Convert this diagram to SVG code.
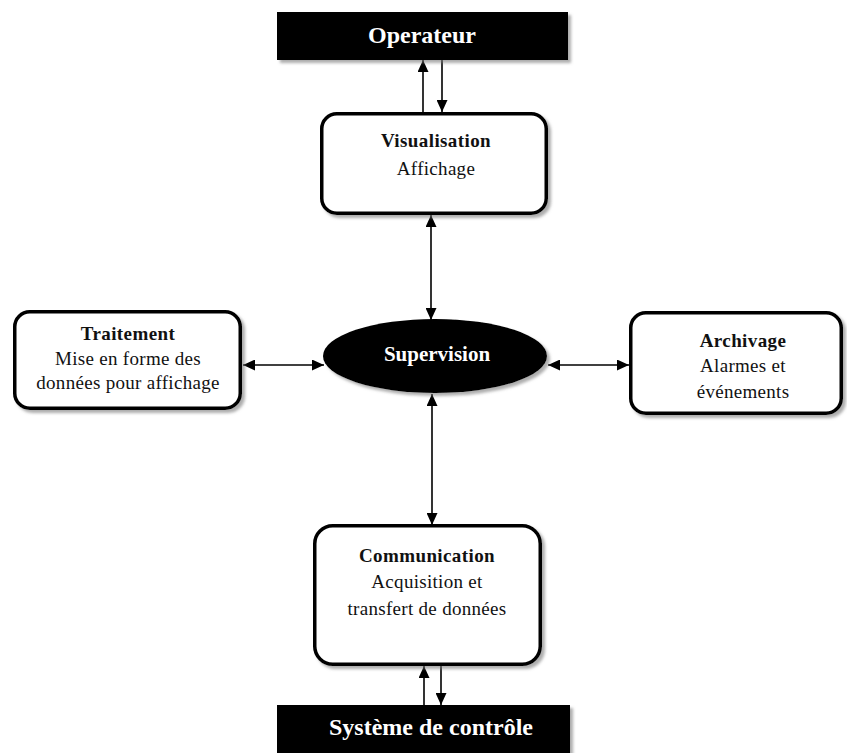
<svg xmlns="http://www.w3.org/2000/svg" width="847" height="753" viewBox="0 0 847 753">
  <defs>
    <filter id="shadow" x="-10%" y="-10%" width="125%" height="130%">
      <feDropShadow dx="3" dy="3" stdDeviation="1.5" flood-color="#777" flood-opacity="0.6"/>
    </filter>
    <marker id="arrow" viewBox="0 0 12 11" refX="12" refY="5.5" markerWidth="12" markerHeight="11" markerUnits="userSpaceOnUse" orient="auto-start-reverse">
      <path d="M0,0 L12,5.5 L0,11 Z" fill="#000"/>
    </marker>
  </defs>
  <style>
    .box { fill: #fff; stroke: #000; stroke-width: 3.5; filter: url(#shadow); }
    .bar { fill: #000; filter: url(#shadow); }
    .link { stroke: #000; stroke-width: 1.6; fill: none; }
    .title { font-family: "Liberation Serif", "Times New Roman", serif; font-weight: bold; font-size: 19px; letter-spacing: 0.4px; fill: #111; text-anchor: middle; }
    .body { font-family: "Liberation Serif", "Times New Roman", serif; font-size: 19px; letter-spacing: 0.3px; fill: #111; text-anchor: middle; }
    .inv { font-family: "Liberation Serif", "Times New Roman", serif; font-weight: bold; fill: #fff; text-anchor: middle; }
  </style>
  <rect width="847" height="753" fill="#fff"/>

  <g id="connectors">
    <!-- Operateur / Visualisation -->
    <line class="link" x1="423" y1="112" x2="423" y2="60" marker-end="url(#arrow)"/>
    <line class="link" x1="442" y1="60" x2="442" y2="112" marker-end="url(#arrow)"/>
    <!-- Visualisation / Supervision -->
    <line class="link" x1="431" y1="215" x2="431" y2="320" marker-start="url(#arrow)" marker-end="url(#arrow)"/>
    <!-- Traitement / Supervision -->
    <line class="link" x1="243" y1="365" x2="324" y2="365" marker-start="url(#arrow)" marker-end="url(#arrow)"/>
    <!-- Supervision / Archivage -->
    <line class="link" x1="548" y1="365" x2="629" y2="365" marker-start="url(#arrow)" marker-end="url(#arrow)"/>
    <!-- Supervision / Communication -->
    <line class="link" x1="432" y1="394" x2="432" y2="525" marker-start="url(#arrow)" marker-end="url(#arrow)"/>
    <!-- Communication / Systeme de controle -->
    <line class="link" x1="424" y1="705" x2="424" y2="666" marker-end="url(#arrow)"/>
    <line class="link" x1="441" y1="666" x2="441" y2="705" marker-end="url(#arrow)"/>
  </g>

  <g id="operateur">
    <rect class="bar" x="277" y="12" width="291" height="48"/>
    <text class="inv" x="422" y="43" font-size="24">Operateur</text>
  </g>

  <g id="visualisation">
    <rect class="box" x="321.75" y="113.75" width="224.5" height="99.5" rx="15"/>
    <text class="title" x="436" y="147">Visualisation</text>
    <text class="body" x="436" y="175">Affichage</text>
  </g>

  <g id="traitement">
    <rect class="box" x="14.75" y="311.75" width="225.5" height="96.5" rx="15"/>
    <text class="title" x="128" y="340">Traitement</text>
    <text class="body" x="128" y="365">Mise en forme des</text>
    <text class="body" x="128" y="389">données pour affichage</text>
  </g>

  <g id="supervision">
    <ellipse cx="435" cy="356" rx="112" ry="37" fill="#000" filter="url(#shadow)"/>
    <text class="inv" x="437" y="361" font-size="21">Supervision</text>
  </g>

  <g id="archivage">
    <rect class="box" x="630.75" y="312.75" width="210.5" height="100.5" rx="15"/>
    <text class="title" x="743" y="347">Archivage</text>
    <text class="body" x="743" y="372">Alarmes et</text>
    <text class="body" x="743" y="398">événements</text>
  </g>

  <g id="communication">
    <rect class="box" x="314.75" y="525.75" width="225.5" height="138.5" rx="18"/>
    <text class="title" x="427" y="562">Communication</text>
    <text class="body" x="427" y="588">Acquisition et</text>
    <text class="body" x="427" y="615">transfert de données</text>
  </g>

  <g id="systeme-controle">
    <rect class="bar" x="277" y="705" width="293" height="52"/>
    <text class="inv" x="431" y="735" font-size="24">Système de contrôle</text>
  </g>
</svg>
